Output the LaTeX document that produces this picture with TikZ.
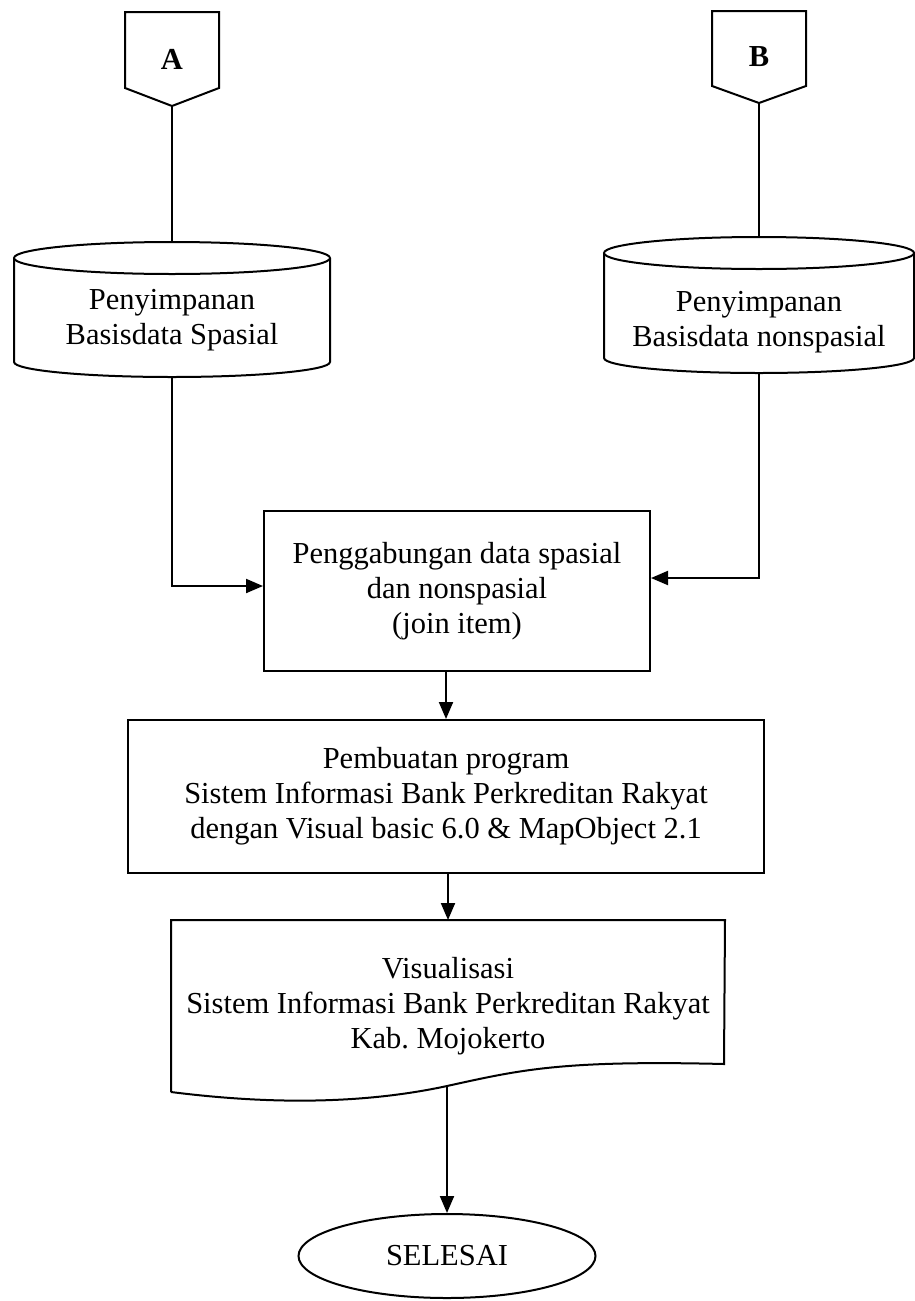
\documentclass[tikz,border=0pt]{standalone}
\usepackage{fontspec}
\setmainfont{Liberation Serif}
\usetikzlibrary{arrows.meta,shapes.geometric}
\begin{document}
\begin{tikzpicture}[x=1pt,y=-1pt,
  line width=2pt, line join=miter,
  lbl/.style={font=\fontsize{30.5}{35}\selectfont, align=center, inner sep=0pt},
  procbox/.style={draw, rectangle, lbl},
  flow/.style={-{Triangle[length=17pt,width=14pt]}},
  ]
\useasboundingbox (0,0) rectangle (915,1301);

% off-page connectors
\node[lbl, font=\fontsize{30.5}{35}\selectfont\bfseries, minimum width=92pt, minimum height=92pt] (A) at (172,59) {A};
\draw (A.north west) -- (A.north east) -- ([yshift=18pt]A.south east) -- (A.south) -- ([yshift=18pt]A.south west) -- cycle;
\node[lbl, font=\fontsize{30.5}{35}\selectfont\bfseries, minimum width=92pt, minimum height=90pt] (B) at (759,57) {B};
\draw (B.north west) -- (B.north east) -- ([yshift=17pt]B.south east) -- (B.south) -- ([yshift=17pt]B.south west) -- cycle;

% storage cylinders (text sits in the body, below the top ellipse)
\node[lbl, minimum width=316pt, minimum height=135pt] (s1) at (172,309.5) {};
\node[lbl] (s1txt) at (172,320) {Penyimpanan\\Basisdata Spasial};
\draw (172,258) ellipse[x radius=158pt, y radius=16pt];
\draw (14,258) -- (14,362) arc[start angle=180, end angle=360, x radius=158pt, y radius=15pt] -- (330,258);

\node[lbl, minimum width=310pt, minimum height=136pt] (s2) at (759,305) {};
\node[lbl] (s2txt) at (759,322) {Penyimpanan\\Basisdata nonspasial};
\draw (759,253) ellipse[x radius=155pt, y radius=16pt];
\draw (604,253) -- (604,358) arc[start angle=180, end angle=360, x radius=155pt, y radius=15pt] -- (914,253);

% process boxes
\node[procbox, minimum width=386pt, minimum height=160pt] (join) at (457,591)
  {Penggabungan data spasial\\dan nonspasial\\(join item)};
\node[procbox, minimum width=636pt, minimum height=153pt] (prog) at (446,796.5)
  {Pembuatan program\\Sistem Informasi Bank Perkreditan Rakyat\\dengan Visual basic 6.0 \& MapObject 2.1};

% document shape
\node[lbl, minimum width=552pt, minimum height=170pt] (doc) at (448,1006)
  {Visualisasi\\Sistem Informasi Bank Perkreditan Rakyat\\Kab.\ Mojokerto};
\coordinate (docbot) at (447,1086);
\draw (doc.south west) -- (doc.north west) -- (doc.north east) -- (724,1064)
  .. controls (560,1060) and (520,1070) .. (docbot)
  .. controls (350,1107) and (250,1102) .. (doc.south west);

% terminator
\node[draw, ellipse, lbl, minimum width=297pt, minimum height=84pt] (end) at (447,1256) {SELESAI};

% connectors
\draw (A.south) -- (s1.north);
\draw (B.south) -- (s2.north);
\draw[flow] (s1.south) |- ([yshift=5pt]join.west);
\draw[flow] (s2.south) |- ([yshift=13pt]join.east);
\draw[flow] (prog.north |- join.south) -- (prog.north);
\draw[flow] (doc.north |- prog.south) -- (doc.north);
\draw[flow] (docbot) -- (end.north);
\end{tikzpicture}
\end{document}
